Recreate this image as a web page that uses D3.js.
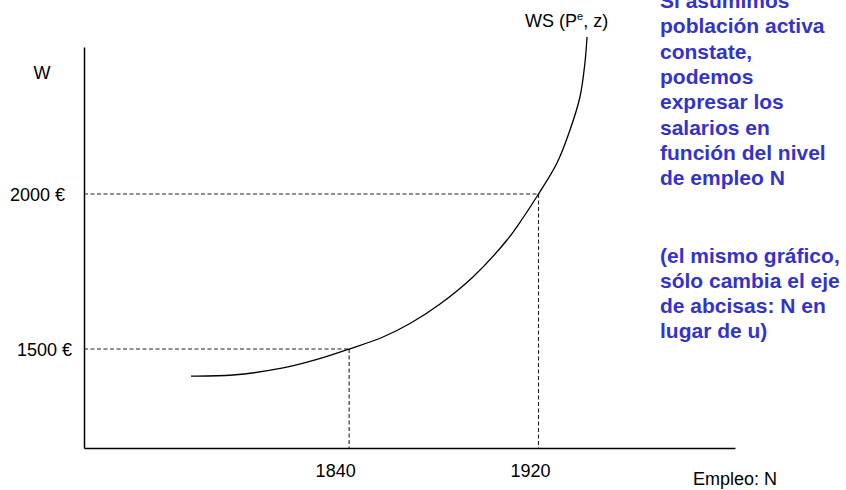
<!DOCTYPE html>
<html>
<head>
<meta charset="utf-8">
<script src="https://cdn.jsdelivr.net/npm/d3@7"></script>
<style>
  body { margin: 0; background: #fff; }
  svg { display: block; font-family: "Liberation Sans", Arial, sans-serif; }
</style>
</head>
<body>
<div id="chart"></div>
<script>
// curve WS(Pe, z): employment N vs wage W
var empleo = [1773.2, 1790.9, 1812.1, 1826.4, 1840, 1854.3, 1865.7, 1878.4, 1892.3, 1906.7, 1913.4, 1920, 1927.8, 1933.3, 1937.5, 1939.6, 1940.5];
var salario = [1413, 1416.4, 1439, 1466.4, 1500, 1538.9, 1582.4, 1645.3, 1732.4, 1851.7, 1922.6, 2000, 2100, 2206.4, 2312.8, 2422.4, 2506];

// reference points marked with dashed lines
var refN = [1840, 1920];
var refW = [1500, 2000];
var wLabels = ["1500 €", "2000 €"];

var textoArriba = ["Si asumimos", "población activa", "constate,", "podemos", "expresar los", "salarios en", "función del nivel", "de empleo N"];
var textoAbajo = ["(el mismo gráfico,", "sólo cambia el eje", "de abcisas: N en", "lugar de u)"];

var W = 846, H = 490;
var margin = { top: 47, right: 111, bottom: 42, left: 84 };

var svg = d3.select('#chart').append('svg')
    .attr('width', W)
    .attr('height', H);

var x = d3.scaleLinear()
    .domain([1728, 2003])
    .range([margin.left, W - margin.right]);

var y = d3.scaleLinear()
    .domain([1181, 2474])
    .range([H - margin.bottom, margin.top]);

// dashed guide lines
var guides = svg.append('g')
    .attr('stroke', '#222')
    .attr('stroke-width', 1.1)
    .attr('stroke-dasharray', '4,2.5')
    .attr('fill', 'none');

refN.forEach(function (n, i) {
    guides.append('line')
        .attr('x1', x.range()[0]).attr('x2', x(n) + 1)
        .attr('y1', y(refW[i])).attr('y2', y(refW[i]));
    guides.append('line')
        .attr('x1', x(n)).attr('x2', x(n))
        .attr('y1', y(refW[i])).attr('y2', y.range()[0]);
});

// axes
var xAxis = svg.append('g')
    .attr('transform', 'translate(0,' + y.range()[0] + ')')
    .call(d3.axisBottom(x).tickValues(refN).tickSize(0).tickFormat(d3.format('d')));
xAxis.select('.domain').attr('stroke', '#000').attr('stroke-width', 1.5);
xAxis.selectAll('text')
    .attr('font-size', 18)
    .attr('font-family', '"Liberation Sans", Arial, sans-serif')
    .attr('fill', '#000')
    .attr('dx', function (d) { return d === 1840 ? -14 : -8.5; })
    .attr('y', 16);

var yAxis = svg.append('g')
    .attr('transform', 'translate(' + x.range()[0] + ',0)')
    .call(d3.axisLeft(y).tickValues(refW).tickSize(0)
        .tickFormat(function (d) { return wLabels[refW.indexOf(d)]; }));
yAxis.select('.domain').attr('stroke', '#000').attr('stroke-width', 1.5);
yAxis.selectAll('text')
    .attr('font-size', 18)
    .attr('font-family', '"Liberation Sans", Arial, sans-serif')
    .attr('fill', '#000')
    .attr('x', function (d) { return d === 2000 ? -19 : -12; })
    .attr('dy', '0.35em');

// WS curve
var line = d3.line()
    .x(function (d) { return x(d[0]); })
    .y(function (d) { return y(d[1]); })
    .curve(d3.curveCatmullRom.alpha(0.5));

svg.append('path')
    .datum(empleo.map(function (n, i) { return [n, salario[i]]; }))
    .attr('d', line)
    .attr('fill', 'none')
    .attr('stroke', '#000')
    .attr('stroke-width', 1.3);

// labels
svg.append('text')
    .attr('x', 42).attr('y', 79)
    .attr('text-anchor', 'middle')
    .attr('font-size', 18)
    .text('W');

svg.append('text')
    .attr('x', 693).attr('y', 485)
    .attr('font-size', 18)
    .text('Empleo: N');

var ws = svg.append('text')
    .attr('x', 525).attr('y', 27)
    .attr('font-size', 18);
ws.append('tspan').text('WS (P');
ws.append('tspan').attr('font-size', 11).attr('dy', -7).text('e');
ws.append('tspan').attr('dy', 7).text(', z)');

// blue note on the right
var note = svg.append('g')
    .attr('font-size', 21)
    .attr('font-weight', 'bold')
    .attr('fill', '#3333cc');

note.selectAll('text.top')
    .data(textoArriba)
    .enter().append('text')
    .attr('class', 'top')
    .attr('x', 660)
    .attr('y', function (d, i) { return 8 + i * 25.3; })
    .text(function (d) { return d; });

note.selectAll('text.bottom')
    .data(textoAbajo)
    .enter().append('text')
    .attr('class', 'bottom')
    .attr('x', 660)
    .attr('y', function (d, i) { return 262.5 + i * 25.2; })
    .text(function (d) { return d; });
</script>
</body>
</html>
